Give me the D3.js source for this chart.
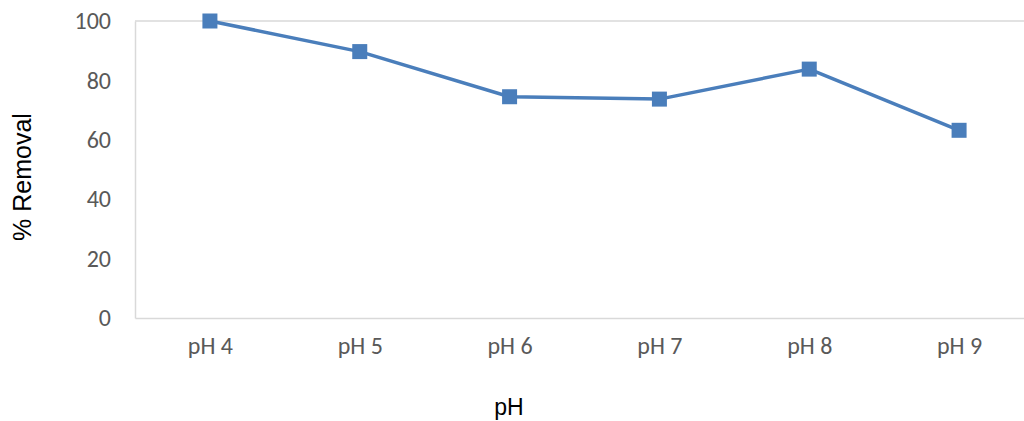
<!DOCTYPE html>
<html>
<head>
<meta charset="utf-8">
<script src="https://cdn.jsdelivr.net/npm/d3@7"></script>
<style>
    body { margin: 0; background: #fff; }
    svg text { font-family: Carlito, Lato, "Open Sans", sans-serif; }
    .tick text { fill: #595959; font-size: 24px; }
    .axis-title { fill: #000; font-family: "Liberation Sans", Arial, sans-serif !important; }
</style>
</head>
<body>
<svg width="1024" height="421"></svg>
<script>
// Chart data
var categories = ['pH 4', 'pH 5', 'pH 6', 'pH 7', 'pH 8', 'pH 9'];
var removal = [100, 89.7, 74.5, 73.7, 83.8, 63.2];
var yTicks = [0, 20, 40, 60, 80, 100];

var svg = d3.select('svg');

// Plot area (right edge runs past the window, as in the reference)
var plot = {l: 135, r: 1034, t: 21, b: 318};

var xScale = d3.scalePoint()
    .domain(categories)
    .range([plot.l, plot.r])
    .padding(0.5);

var yScale = d3.scaleLinear()
    .domain([0, 100])
    .range([plot.b, plot.t]);

// Top frame line
svg.append('line')
    .attr('x1', plot.l).attr('x2', plot.r)
    .attr('y1', plot.t).attr('y2', plot.t)
    .attr('stroke', '#d9d9d9').attr('stroke-width', 1.5);

// Y axis
var yAxis = svg.append('g')
    .attr('transform', 'translate(' + plot.l + ',0)')
    .attr('font-size', null)
    .call(d3.axisLeft(yScale).tickValues(yTicks).tickSize(0).tickPadding(24));
yAxis.select('.domain').attr('stroke', '#d9d9d9').attr('stroke-width', 1.5);

// X axis
var xAxis = svg.append('g')
    .attr('transform', 'translate(0,' + plot.b + ')')
    .call(d3.axisBottom(xScale).tickSize(0).tickPadding(19));
xAxis.select('.domain').attr('stroke', '#d9d9d9').attr('stroke-width', 1.5);

// Line
var line = d3.line()
    .x(function(d, i) { return xScale(categories[i]); })
    .y(function(d) { return yScale(d); });

svg.append('path')
    .datum(removal)
    .attr('fill', 'none')
    .attr('stroke', '#4a7ebb')
    .attr('stroke-width', 3.5)
    .attr('stroke-linejoin', 'round')
    .attr('d', line);

// Square markers
var size = 15;
svg.selectAll('.marker')
    .data(removal)
    .enter()
    .append('rect')
    .attr('class', 'marker')
    .attr('x', function(d, i) { return xScale(categories[i]) - size / 2; })
    .attr('y', function(d) { return yScale(d) - size / 2; })
    .attr('width', size)
    .attr('height', size)
    .attr('fill', '#4a7ebb');

// Axis titles
svg.append('text')
    .attr('class', 'axis-title')
    .attr('text-anchor', 'middle')
    .attr('font-size', 23)
    .attr('x', 509).attr('y', 415)
    .text('pH');

svg.append('text')
    .attr('class', 'axis-title')
    .attr('text-anchor', 'middle')
    .attr('font-size', 25)
    .attr('transform', 'translate(' + [31, 177] + ') rotate(-90)')
    .text('% Removal');
</script>
</body>
</html>
